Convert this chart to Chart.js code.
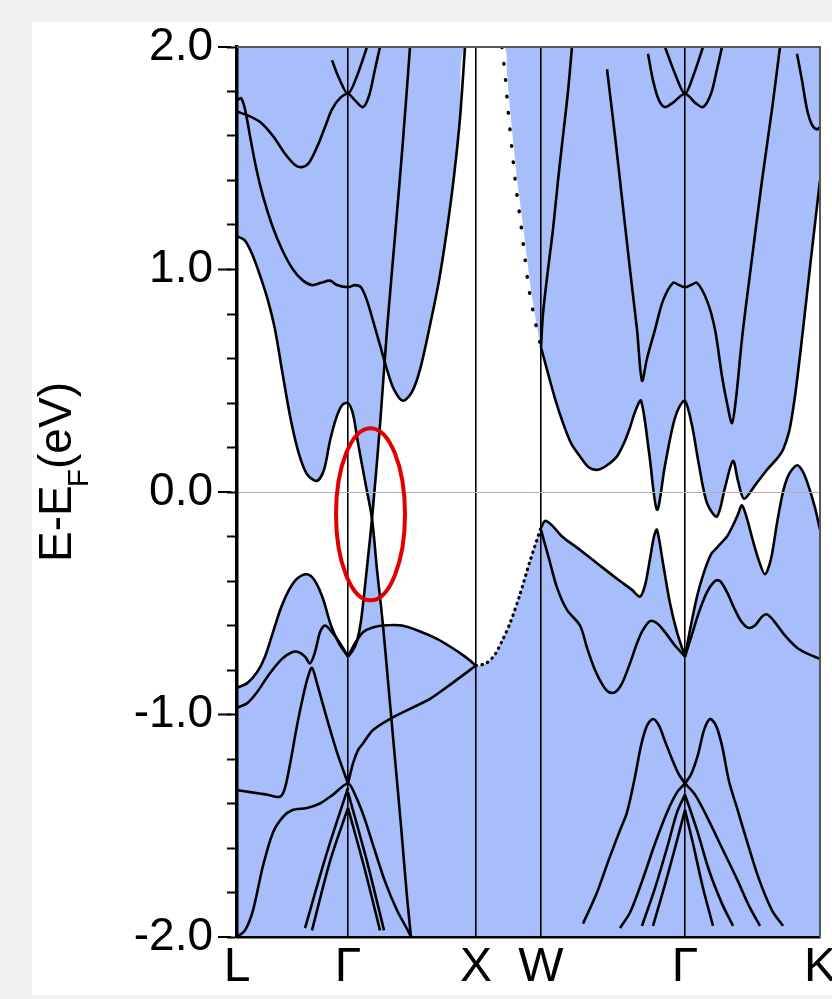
<!DOCTYPE html>
<html>
<head>
<meta charset="utf-8">
<script src="https://cdn.jsdelivr.net/npm/chart.js@4.4.1/dist/chart.umd.min.js"></script>
<style>
  html, body { margin: 0; padding: 0; background: #f0f0f0; }
  #panel { position: absolute; left: 32px; top: 22px; width: 800px; height: 973px; background: #fff; }
</style>
</head>
<body>
<div id="panel"><canvas id="bandChart"></canvas></div>
<script>
//setup block
// position of the high symmetry points along the k path
const kPoints = [0, 111, 239, 304, 448, 583];
const kLabels = ['L', 'Γ', 'X', 'W', 'Γ', 'K'];
const yTickValues = [-2, -1, 0, 1, 2];
const yTickLabels = ['-2.0', '-1.0', '0.0', '1.0', '2.0'];

// bands, [k, E-EF] pairs
// L - Γ - X part
const bandCondL = [[0,1.15],[8,1.13],[16,1.06],[24,0.96],[31,0.86],[38,0.73],[46,0.52],[54,0.32],[62,0.17],[70,0.08],[80,0.05],[87,0.1],[93,0.23],[99,0.33],[105,0.39],[111,0.40],[116,0.35],[121,0.22],[128,0.05],[135,-0.12],[140,-0.35],[146,-0.6],[152,-0.9],[158,-1.2],[164,-1.5],[170,-1.82],[174,-2.0]];
const bandS2 = [[111,-0.74],[116,-0.71],[120,-0.67],[124,-0.58],[129,-0.38],[135,-0.12],[143,0.3],[150,0.73],[158,1.15],[166,1.58],[173,2.0]];
const bandValX = [[111,-0.74],[118,-0.68],[126,-0.63],[135,-0.61],[146,-0.6],[165,-0.6],[185,-0.63],[200,-0.66],[215,-0.7],[228,-0.74],[239,-0.78]];
const bandValA = [[0,-0.88],[10,-0.86],[20,-0.81],[28,-0.74],[36,-0.63],[44,-0.52],[52,-0.44],[60,-0.39],[70,-0.37],[78,-0.4],[86,-0.48],[94,-0.6],[102,-0.68],[111,-0.74]];
const bandValB = [[0,-0.97],[10,-0.95],[20,-0.9],[32,-0.82],[45,-0.75],[55,-0.72],[62,-0.72],[68,-0.74],[73,-0.77],[78,-0.72],[83,-0.63],[88,-0.6],[95,-0.63],[103,-0.68],[111,-0.74]];
const bandC = [[0,-1.34],[15,-1.35],[30,-1.36],[43,-1.37],[48,-1.33],[54,-1.2],[60,-1.05],[66,-0.92],[71,-0.83],[75,-0.79],[80,-0.86],[90,-1.02],[100,-1.17],[111,-1.31]];
const bandE = [[111,-1.31],[116,-1.22],[121,-1.16],[126,-1.13],[136,-1.07],[153,-1.02],[175,-0.97],[193,-0.93],[215,-0.86],[239,-0.78]];
const bandD = [[0,-2.0],[8,-1.97],[16,-1.88],[26,-1.68],[36,-1.53],[46,-1.46],[55,-1.43],[70,-1.42],[83,-1.4],[96,-1.36],[111,-1.31],[118,-1.36],[127,-1.46],[137,-1.6],[148,-1.75],[160,-1.88],[172,-1.98],[174,-2.0]];
const bandG1 = [[68,-1.96],[90,-1.62],[111,-1.33]];
const bandG2 = [[75,-1.97],[93,-1.66],[111,-1.42]];
const bandG3 = [[111,-1.42],[128,-1.7],[143,-1.97]];
const bandG4 = [[111,-1.35],[130,-1.66],[147,-1.97]];
const bandU1 = [[0,1.71],[12,1.69],[24,1.66],[36,1.6],[48,1.52],[58,1.47],[65,1.46],[72,1.48],[80,1.55],[88,1.64],[95,1.72],[103,1.77],[111,1.79],[118,1.76],[126,1.73],[132,1.78],[138,1.9],[143,2.0]];
const bandU2 = [[95,1.94],[102,1.86],[111,1.79],[120,1.87],[130,2.0]];
const bandU3 = [[0,1.76],[4,1.77],[8,1.72],[13,1.6],[19,1.46],[26,1.33],[35,1.2],[45,1.09],[56,1.0],[66,0.95],[75,0.93],[84,0.94],[93,0.95],[100,0.93],[111,0.92],[118,0.93],[124,0.92],[130,0.86],[136,0.77],[143,0.66],[150,0.55],[157,0.46],[166,0.41],[175,0.45],[183,0.55],[193,0.75],[202,0.95],[210,1.18],[217,1.42],[223,1.68],[228,2.0]];

// W - Γ - K part
const bandWUp = [[304,0.65],[306,0.8],[311,1.0],[316,1.18],[321,1.4],[326,1.6],[331,1.8],[335,2.0]];
const bandCondW = [[304,0.65],[310,0.55],[318,0.42],[326,0.31],[334,0.22],[343,0.16],[352,0.11],[361,0.1],[370,0.12],[380,0.16],[387,0.22],[393,0.29],[398,0.36],[404,0.41],[412,0.18],[420,-0.08],[428,0.12],[436,0.3],[442,0.38],[448,0.41],[455,0.3],[462,0.12],[470,-0.05],[480,-0.11],[488,0.02],[496,0.14],[501,0.05],[507,-0.03],[518,0.03],[530,0.1],[540,0.15],[546,0.19],[552,0.27],[556,0.37],[560,0.5],[566,0.73],[574,1.05],[583,1.4]];
const bandMidW = [[370,1.9],[378,1.6],[385,1.32],[393,1.0],[400,0.73],[405,0.5],[410,0.6],[418,0.73],[426,0.86],[436,0.94],[442,0.93],[448,0.92],[454,0.93],[460,0.94],[470,0.86],[478,0.73],[485,0.52],[490,0.4],[495,0.31],[499,0.42],[503,0.6],[506,0.73],[515,1.05],[525,1.4],[535,1.72],[543,2.0]];
const bandGU1 = [[411,1.97],[416,1.85],[422,1.76],[428,1.73],[436,1.75],[448,1.79],[458,1.75],[466,1.73],[474,1.79],[480,1.9],[485,2.0]];
const bandGU2 = [[428,2.0],[438,1.88],[448,1.79],[457,1.88],[466,2.0]];
const bandKUp = [[560,1.97],[565,1.85],[570,1.72],[575,1.65],[580,1.63],[583,1.64]];
const bandValW = [[304,-0.16],[308,-0.13],[315,-0.15],[325,-0.2],[340,-0.25],[360,-0.32],[380,-0.39],[395,-0.44],[403,-0.47],[408,-0.42],[413,-0.3],[417,-0.2],[420,-0.17],[426,-0.32],[433,-0.5],[440,-0.63],[448,-0.74]];
const bandValW2 = [[304,-0.17],[312,-0.3],[320,-0.43],[330,-0.53],[343,-0.6],[350,-0.7],[358,-0.8],[366,-0.87],[372,-0.9],[378,-0.9],[385,-0.86],[393,-0.77],[400,-0.68],[406,-0.62],[413,-0.58],[420,-0.59],[428,-0.63],[438,-0.69],[448,-0.74]];
const bandValR1 = [[448,-0.74],[453,-0.62],[460,-0.47],[467,-0.36],[474,-0.28],[480,-0.25],[484,-0.23],[490,-0.2],[496,-0.15],[501,-0.1],[505,-0.06],[510,-0.12],[516,-0.22],[522,-0.31],[528,-0.37],[534,-0.3],[540,-0.14],[546,0.0],[552,0.08],[560,0.12],[566,0.09],[572,0.02],[578,-0.07],[583,-0.17]];
const bandValR2 = [[448,-0.74],[455,-0.64],[462,-0.54],[470,-0.45],[478,-0.4],[483,-0.4],[490,-0.45],[497,-0.52],[504,-0.58],[511,-0.61],[518,-0.6],[525,-0.56],[530,-0.55],[537,-0.58],[547,-0.64],[560,-0.7],[572,-0.73],[583,-0.75]];
const bandHumpL = [[346,-1.94],[360,-1.8],[372,-1.65],[383,-1.52],[390,-1.44],[398,-1.28],[404,-1.14],[410,-1.05],[416,-1.02],[422,-1.05],[428,-1.12],[435,-1.2],[442,-1.27],[448,-1.31]];
const bandHumpR = [[448,-1.31],[454,-1.27],[461,-1.18],[467,-1.07],[473,-1.02],[479,-1.05],[485,-1.14],[492,-1.3],[500,-1.42],[510,-1.57],[522,-1.74],[535,-1.88],[546,-1.95]];
const bandFan1 = [[383,-1.96],[393,-1.89],[405,-1.75],[418,-1.58],[430,-1.44],[440,-1.35],[448,-1.31]];
const bandFan2 = [[405,-1.95],[418,-1.78],[430,-1.6],[440,-1.44],[448,-1.36]];
const bandFan3 = [[416,-1.95],[427,-1.78],[438,-1.6],[448,-1.43]];
const bandFan4 = [[448,-1.43],[456,-1.58],[466,-1.78],[476,-1.95]];
const bandFan5 = [[448,-1.36],[460,-1.52],[472,-1.7],[485,-1.85],[496,-1.95]];
const bandFan6 = [[448,-1.31],[458,-1.36],[470,-1.46],[485,-1.6],[500,-1.74],[512,-1.86],[523,-1.95]];

// dotted X - W lines
const dotsXWUpper = [[265,2.0],[268,1.88],[271,1.72],[275,1.54],[279,1.37],[284,1.2],[288,1.05],[292,0.91],[298,0.77],[304,0.65]];
const dotsXWLower = [[239,-0.78],[249,-0.77],[258,-0.73],[265,-0.67],[273,-0.59],[283,-0.46],[293,-0.31],[304,-0.16]];

// outline of the white (gap) region, everything else is shaded
const gapOutline = [
  [0,1.15],[8,1.13],[16,1.06],[24,0.96],[31,0.86],[38,0.73],[46,0.52],[54,0.32],[62,0.17],[70,0.08],[80,0.05],[87,0.1],[93,0.23],[99,0.33],[105,0.39],[111,0.40],[116,0.35],[121,0.22],[128,0.05],[135,-0.12],
  [143,0.3],[147.7,0.59],[150,0.55],[157,0.46],[166,0.41],[175,0.45],[183,0.55],[193,0.75],[202,0.95],[210,1.18],[217,1.42],[223,1.68],[228,2.0],
  [267,2.0],[270,1.88],[273,1.72],[277,1.54],[281,1.37],[286,1.2],[290,1.05],[294,0.91],[299,0.77],[304,0.65],
  [310,0.55],[318,0.42],[326,0.31],[334,0.22],[343,0.16],[352,0.11],[361,0.1],[370,0.12],[380,0.16],[387,0.22],[393,0.29],[398,0.36],[404,0.41],[412,0.18],[420,-0.08],[428,0.12],[436,0.3],[442,0.38],[448,0.41],[455,0.3],[462,0.12],[470,-0.05],[480,-0.11],[488,0.02],[496,0.14],[501,0.05],[507,-0.03],[518,0.03],[530,0.1],[540,0.15],[546,0.19],[552,0.27],[556,0.37],[560,0.5],[566,0.73],[574,1.05],[583,1.4],
  [583,-0.17],[578,-0.07],[572,0.02],[566,0.09],[560,0.12],[552,0.08],[546,0.0],[540,-0.14],[534,-0.3],[528,-0.37],[522,-0.31],[516,-0.22],[510,-0.12],[505,-0.06],[501,-0.1],[496,-0.15],[490,-0.2],[484,-0.23],[480,-0.25],[474,-0.28],[467,-0.36],[460,-0.47],[453,-0.62],[448,-0.74],
  [440,-0.63],[433,-0.5],[426,-0.32],[420,-0.17],[417,-0.2],[413,-0.3],[408,-0.42],[403,-0.47],[395,-0.44],[380,-0.39],[360,-0.32],[340,-0.25],[325,-0.2],[315,-0.15],[308,-0.13],[304,-0.16],
  [293,-0.31],[283,-0.46],[273,-0.59],[265,-0.67],[258,-0.73],[249,-0.77],[239,-0.78],
  [228,-0.74],[215,-0.7],[200,-0.66],[185,-0.63],[165,-0.6],[146,-0.6],[140,-0.35],[135,-0.12],
  [129,-0.38],[124,-0.58],[120,-0.67],[116,-0.71],[111,-0.74],
  [102,-0.68],[94,-0.6],[86,-0.48],[78,-0.4],[70,-0.37],[60,-0.39],[52,-0.44],[44,-0.52],[36,-0.63],[28,-0.74],[20,-0.81],[10,-0.86],[0,-0.88]
];

// red ellipse marking the crossing: centre k, centre E, half width (k), half height (eV)
const markEllipse = [133.5, -0.10, 34.5, 0.387];

const bulkBlue = '#a8befb';

const bands = [bandCondL, bandS2, bandValX, bandValA, bandValB, bandC, bandE, bandD, bandG1, bandG2, bandG3, bandG4,
  bandU1, bandU2, bandU3, bandWUp, bandCondW, bandMidW, bandGU1, bandGU2, bandKUp, bandValW, bandValW2,
  bandValR1, bandValR2, bandHumpL, bandHumpR, bandFan1, bandFan2, bandFan3, bandFan4, bandFan5, bandFan6];

const datasets = bands.map(b => ({
  data: b,
  borderColor: '#000',
  borderWidth: 2.6,
  pointRadius: 0,
  tension: 0.3,
  fill: false,
  order: 0
}));

// upper dots are sparse, lower ones dense
datasets.push({
  data: dotsXWUpper,
  borderColor: '#000',
  borderWidth: 3.5,
  borderDash: [0.5, 16],
  borderCapStyle: 'round',
  pointRadius: 0,
  tension: 0.3,
  fill: false,
  order: 0
});
datasets.push({
  data: dotsXWLower,
  borderColor: '#000',
  borderWidth: 3.2,
  borderDash: [0.5, 5.5],
  borderCapStyle: 'round',
  pointRadius: 0,
  tension: 0.3,
  fill: false,
  order: 0
});

datasets.push({
  data: gapOutline,
  borderColor: 'rgba(0,0,0,0)',
  borderWidth: 0,
  backgroundColor: '#ffffff',
  pointRadius: 0,
  tension: 0.25,
  fill: 'shape',
  order: 10
});

//plugins
const areaFill = {
  id: 'areaFill',
  beforeDraw(chart) {
    const {ctx, chartArea: a} = chart;
    ctx.save();
    ctx.fillStyle = bulkBlue;
    ctx.fillRect(a.left, a.top, a.right - a.left, a.bottom - a.top);
    ctx.restore();
  }
};

const frameAndMarks = {
  id: 'frameAndMarks',
  afterDraw(chart) {
    const {ctx, chartArea: a, scales} = chart;
    const x = scales.x, y = scales.y;
    ctx.save();
    // top and right frame
    ctx.strokeStyle = '#555';
    ctx.lineWidth = 2;
    ctx.beginPath();
    ctx.moveTo(a.left, a.top);
    ctx.lineTo(a.right, a.top);
    ctx.lineTo(a.right, a.bottom);
    ctx.stroke();
    // longer ticks at labelled values
    ctx.strokeStyle = '#000';
    ctx.beginPath();
    yTickValues.forEach(v => {
      const py = y.getPixelForValue(v);
      ctx.moveTo(a.left - 19, py);
      ctx.lineTo(a.left - 6, py);
    });
    ctx.stroke();
    // red ellipse
    const cx = x.getPixelForValue(markEllipse[0]);
    const cy = y.getPixelForValue(markEllipse[1]);
    const rx = Math.abs(x.getPixelForValue(markEllipse[0] + markEllipse[2]) - cx);
    const ry = Math.abs(y.getPixelForValue(markEllipse[1] + markEllipse[3]) - cy);
    ctx.strokeStyle = '#e00000';
    ctx.lineWidth = 4;
    ctx.beginPath();
    ctx.ellipse(cx, cy, rx, ry, 0, 0, Math.PI * 2);
    ctx.stroke();
    // y title with subscript F
    const big = '46px "Liberation Sans", Arial, sans-serif';
    const small = '30px "Liberation Sans", Arial, sans-serif';
    ctx.translate(26, (a.top + a.bottom) / 2 - 21);
    ctx.rotate(-Math.PI / 2);
    ctx.fillStyle = '#000';
    ctx.textBaseline = 'middle';
    ctx.textAlign = 'left';
    ctx.font = big;
    const w1 = ctx.measureText('E-E').width;
    const w3 = ctx.measureText('(eV)').width;
    ctx.font = small;
    const w2 = ctx.measureText('F').width;
    let tx = -(w1 + w2 + w3) / 2;
    ctx.font = big;
    ctx.fillText('E-E', tx, 0);
    tx += w1 - 2;
    ctx.font = small;
    ctx.fillText('F', tx, 22);
    tx += w2;
    ctx.font = big;
    ctx.fillText('(eV)', tx, 0);
    ctx.restore();
  }
};

//config block
Chart.defaults.font.family = '"Liberation Sans", Arial, sans-serif';
Chart.defaults.color = '#000';

const bandChartConfig = {
  type: 'line',
  data: { datasets: datasets },
  options: {
    responsive: true,
    maintainAspectRatio: false,
    animation: false,
    events: [],
    layout: { padding: { top: 25, right: 12, left: 0, bottom: 0 } },
    plugins: {
      legend: { display: false },
      tooltip: { enabled: false }
    },
    scales: {
      x: {
        type: 'linear',
        min: kPoints[0],
        max: kPoints[kPoints.length - 1],
        afterBuildTicks: s => { s.ticks = kPoints.map(v => ({ value: v })); },
        afterFit: s => { s.height = 58; s.paddingLeft = 0; s.paddingRight = 0; },
        ticks: {
          z: 1,
          autoSkip: false,
          maxRotation: 0,
          padding: 2,
          font: { size: 48 },
          color: '#000',
          callback: (v, i) => kLabels[i]
        },
        grid: {
          z: 1,
          drawTicks: false,
          lineWidth: 1.6,
          color: c => (c.index > 0 && c.index < kPoints.length - 1) ? '#000' : 'rgba(0,0,0,0)'
        },
        border: { z: 2, color: '#000', width: 2.5 }
      },
      y: {
        min: -2,
        max: 2,
        afterFit: s => { s.width = 205; s.paddingTop = 0; s.paddingBottom = 0; },
        ticks: {
          z: 1,
          stepSize: 0.2,
          maxTicksLimit: 30,
          autoSkip: false,
          padding: 14,
          font: { size: 46 },
          color: '#000',
          callback: v => {
            const i = yTickValues.indexOf(Math.round(v * 10) / 10);
            return i >= 0 ? yTickLabels[i] : '';
          }
        },
        grid: {
          z: 1,
          lineWidth: 1,
          tickLength: 10,
          tickWidth: 2,
          tickColor: '#000',
          color: c => (c.tick && Math.abs(c.tick.value) < 1e-6) ? '#b0b0b0' : 'rgba(0,0,0,0)'
        },
        border: { z: 2, color: '#000', width: 3.5 }
      }
    }
  },
  plugins: [areaFill, frameAndMarks]
};

//render block
const bandChart = new Chart(document.getElementById('bandChart'), bandChartConfig);
</script>
</body>
</html>
